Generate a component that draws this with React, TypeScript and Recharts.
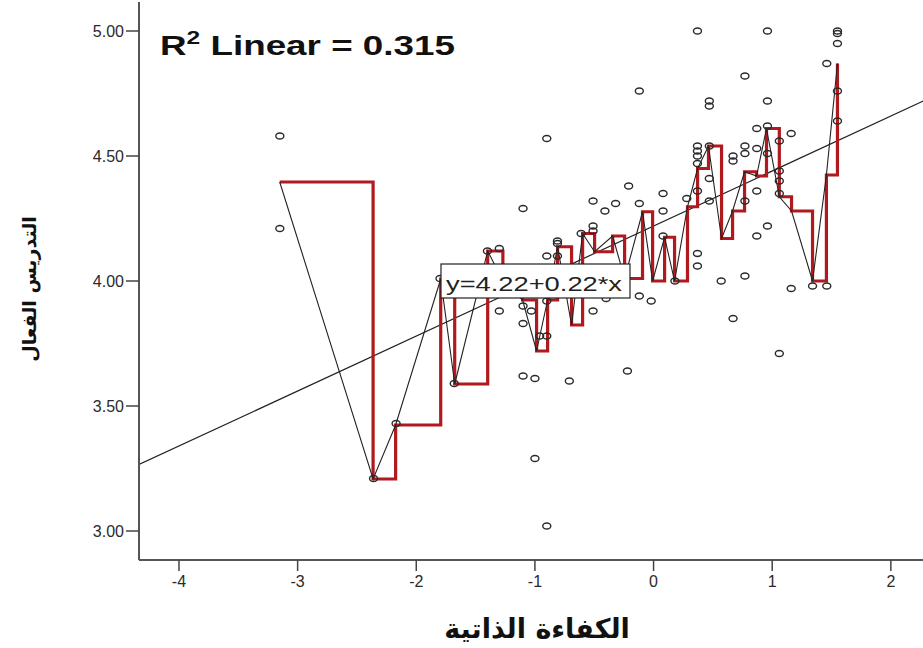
import { ComposedChart, Scatter, Line, XAxis, YAxis } from "recharts";

// raw scatter: self-efficacy (x) vs effective teaching (y)
const selfEfficacy = [
  -3.15, -3.15, -2.36, -2.17, -1.8, -1.68,
  -1.4, -1.3, -1.3, -1.1, -1.1, -1.1, -1.03, -1.1, -1.0, -1.0, -0.9, -0.9, -0.9, -0.9, -0.9, -0.96,
  -0.81, -0.81, -0.81, -0.71, -0.61, -0.51, -0.51, -0.51, -0.51, -0.41, -0.4, -0.32, -0.21, -0.22,
  -0.12, -0.12, -0.12, -0.02, 0.08, 0.08, 0.08, 0.18, 0.28,
  0.37, 0.37, 0.37, 0.37, 0.37, 0.37, 0.37, 0.37,
  0.47, 0.47, 0.47, 0.47, 0.47,
  0.57, 0.67, 0.67, 0.67,
  0.77, 0.77, 0.77, 0.77, 0.77,
  0.87, 0.87, 0.87, 0.87,
  0.96, 0.96, 0.96, 0.96, 0.96,
  1.06, 1.06, 1.06, 1.06, 1.06,
  1.16, 1.16,
  1.34, 1.46, 1.46,
  1.55, 1.55, 1.55, 1.55, 1.55,
];
const effectiveTeaching = [
  4.58, 4.21, 3.21, 3.43, 4.01, 3.59,
  4.12, 4.13, 3.88, 4.29, 3.9, 3.83, 3.88, 3.62, 3.61, 3.29, 3.02, 4.57, 4.1, 3.92, 3.78, 3.78,
  4.16, 4.15, 4.1, 3.6, 4.19, 4.22, 4.2, 4.32, 3.88, 4.28, 3.93, 4.31, 4.38, 3.64,
  4.76, 4.31, 3.94, 3.92, 4.35, 4.28, 4.18, 4.0, 4.33,
  5.0, 4.54, 4.52, 4.5, 4.47, 4.36, 4.11, 4.06,
  4.72, 4.7, 4.54, 4.41, 4.32,
  4.0, 4.5, 4.48, 3.85,
  4.82, 4.54, 4.51, 4.32, 4.02,
  4.53, 4.61, 4.36, 4.18,
  5.0, 4.72, 4.62, 4.51, 4.22,
  4.56, 4.44, 4.4, 4.35, 3.71,
  4.59, 3.97,
  3.98, 4.87, 3.98,
  5.0, 4.99, 4.95, 4.76, 4.64,
];

// interpolation line through the means at each x
const meanX = [
  -3.151, -2.364, -2.174, -1.794, -1.676, -1.398, -1.27, -1.104, -0.986, -0.893,
  -0.809, -0.691, -0.598, -0.497, -0.345, -0.244, -0.093, -0.008, 0.093, 0.177,
  0.286, 0.371, 0.463, 0.573, 0.666, 0.767, 0.868, 0.952, 1.06, 1.163,
  1.34, 1.457, 1.55,
];
const meanY = [
  4.396, 3.208, 3.424, 4.008, 3.588, 4.12, 4.0, 3.924, 3.72, 3.924,
  4.137, 3.824, 4.19, 4.117, 4.18, 4.01, 4.277, 4.0, 4.175, 4.0,
  4.297, 4.45, 4.54, 4.17, 4.28, 4.437, 4.42, 4.61, 4.337, 4.28,
  4.0, 4.424, 4.87,
];

const xTicks = [-4, -3, -2, -1, 0, 1, 2];
const yTicks = [3, 3.5, 4, 4.5, 5];

const intercept = 4.22;
const slope = 0.22;
const rSquared = 0.315;

const X_DOMAIN: [number, number] = [-4.337, 2.33];
const Y_DOMAIN: [number, number] = [2.884, 5.116];

const points = selfEfficacy.map((x, i) => ({ x, y: effectiveTeaching[i] }));
const means = meanX.map((x, i) => ({ x, y: meanY[i] }));
const fitLine = X_DOMAIN.map((x) => ({ x, y: intercept + slope * x }));

const Ring = (props: any) => (
  <ellipse cx={props.cx} cy={props.cy} rx={4} ry={3} fill="none" stroke="#2a2a2a" strokeWidth={1.4} />
);

const YTick = ({ x, y, payload }: any) => (
  <text x={x} y={y} dy="0.36em" textAnchor="end" fontFamily="Liberation Sans, Arial" fontSize={16} fill="#2a2a2a">
    {payload.value.toFixed(2)}
  </text>
);

const XTick = ({ x, y, payload }: any) => (
  <text x={x} y={y} dy="0.9em" textAnchor="middle" fontFamily="Liberation Sans, Arial" fontSize={16} fill="#2a2a2a">
    {payload.value}
  </text>
);

export default function App() {
  return (
    <div style={{ position: "absolute", left: 0, top: 0, width: 923, height: 648, overflow: "hidden", background: "#fff" }}>
      <ComposedChart width={940} height={648} margin={{ top: 2, right: 10, bottom: 0, left: 0 }}>
        <XAxis
          dataKey="x"
          type="number"
          domain={X_DOMAIN}
          allowDataOverflow
          ticks={xTicks}
          tick={<XTick />}
          tickSize={11}
          height={88}
          axisLine={{ stroke: "#555", strokeWidth: 2 }}
          tickLine={{ stroke: "#444", strokeWidth: 1.5 }}
        />
        <XAxis
          xAxisId="top"
          orientation="top"
          type="number"
          domain={X_DOMAIN}
          allowDataOverflow
          height={0}
          tick={false}
          tickLine={false}
          axisLine={{ stroke: "#777", strokeWidth: 2 }}
        />
        <YAxis
          dataKey="y"
          type="number"
          domain={Y_DOMAIN}
          allowDataOverflow
          ticks={yTicks}
          tick={<YTick />}
          tickSize={13}
          width={139}
          axisLine={{ stroke: "#555", strokeWidth: 2 }}
          tickLine={{ stroke: "#444", strokeWidth: 1.5 }}
        />
        <Line data={fitLine} dataKey="y" type="linear" stroke="#222" strokeWidth={1.2} dot={false} activeDot={false} isAnimationActive={false} />
        <Line data={means} dataKey="y" type="stepAfter" stroke="#b0191e" strokeWidth={3.2} dot={false} activeDot={false} isAnimationActive={false} />
        <Line data={means} dataKey="y" type="linear" stroke="#222" strokeWidth={1.1} dot={false} activeDot={false} isAnimationActive={false} />
        <Scatter data={points} dataKey="y" shape={<Ring />} isAnimationActive={false} />
      </ComposedChart>
      <svg width={923} height={648} style={{ position: "absolute", left: 0, top: 0, pointerEvents: "none" }}>
        <text x={160} y={55} fontFamily="Liberation Sans, Arial" fontWeight="bold" fontSize={27} fill="#111" textLength={295} lengthAdjust="spacingAndGlyphs">
          R<tspan dy={-11} fontSize={18}>2</tspan>
          <tspan dy={11}> Linear = {rSquared.toFixed(3)}</tspan>
        </text>
        <rect x={441} y={264} width={189} height={34} fill="#fff" stroke="#222" strokeWidth={1.2} />
        <text x={446} y={291} fontFamily="Liberation Sans, Arial" fontSize={21} fill="#222" textLength={176} lengthAdjust="spacingAndGlyphs">
          {`y=${intercept.toFixed(2)}+${slope.toFixed(2)}*x`}
        </text>
        <text x={537} y={638} textAnchor="middle" fontFamily="DejaVu Sans" fontWeight="bold" fontSize={27} fill="#111">
          الكفاءة الذاتية
        </text>
        <text x={0} y={0} transform="translate(36,289) rotate(-90)" textAnchor="middle" fontFamily="DejaVu Sans" fontWeight="bold" fontSize={19} fill="#111">
          التدريس الفعال
        </text>
      </svg>
    </div>
  );
}
